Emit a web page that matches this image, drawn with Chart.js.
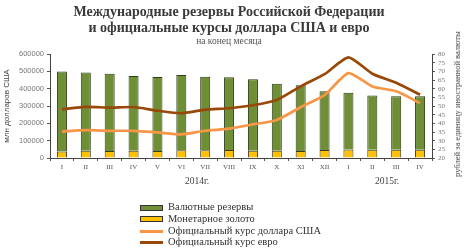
<!DOCTYPE html>
<html>
<head>
<meta charset="utf-8">
<script src="https://cdn.jsdelivr.net/npm/chart.js@4"></script>
<style>
body { margin:0; background:#fff; }
#wrap { position:relative; width:464px; height:250px; overflow:hidden; font-family:"Liberation Serif", serif; color:#333; }
#mycanvas { position:absolute; left:0; top:0; }
.t { position:absolute; white-space:nowrap; }
#title { left:0; width:458px; top:4px; text-align:center; font-weight:bold; font-size:14px; line-height:16px; color:#3a3a3a; }
#sub { left:0; width:458px; top:36px; text-align:center; font-size:9.5px; color:#555; }
#rtitle { left:457px; top:104px; font-size:8.5px; color:#444; transform:translate(-50%,-50%) rotate(-90deg); }
.yr { top:176px; font-size:9.5px; color:#444; transform:translateX(-50%); }
#legend { left:140px; top:201px; font-size:10.5px; color:#333; }
.row { height:11.8px; line-height:11.8px; }
.sw { display:inline-block; width:23px; margin-right:5px; vertical-align:middle; box-sizing:border-box; }
</style>
</head>
<body>
<div id="wrap">
<canvas id="mycanvas" width="464" height="250"></canvas>
<div class="t" id="title">Международные резервы Российской Федерации<br>и официальные курсы доллара США и евро</div>
<div class="t" id="sub">на конец месяца</div>
<div class="t" id="rtitle">рублей за единицу иностранной валюты</div>
<div class="t yr" style="left:197px">2014г.</div>
<div class="t yr" style="left:387px">2015г.</div>
<div class="t" id="legend"></div>
</div>
<script>
// months, 2014 I..XII and 2015 I..IV
var months = ["I","II","III","IV","V","VI","VII","VIII","IX","X","XI","XII","I","II","III","IV"];

// млн долларов США
var fxReserves = [461500, 452000, 445000, 431400, 425900, 434200, 424000, 419700, 412600, 387300, 379600, 339300, 326800, 312800, 309500, 308400];
var goldReserves = [37400, 41300, 41100, 41300, 41100, 44100, 44400, 45500, 41600, 41300, 40400, 46200, 49400, 47400, 46900, 48300];

// рублей за единицу
var usdRate = [35.24, 36.05, 35.69, 35.70, 34.74, 33.63, 35.73, 36.93, 39.39, 41.96, 49.32, 56.26, 68.93, 61.28, 58.46, 51.70];
var eurRate = [48.05, 49.54, 49.05, 49.41, 47.29, 45.83, 47.94, 48.70, 50.41, 53.43, 61.34, 68.34, 78.09, 68.62, 63.37, 56.47];

var seriesNames = ["Валютные резервы", "Монетарное золото", "Официальный курс доллара США", "Официальный курс евро"];

var green = "#6f8f36", gold = "#ffc000", usdCol = "#f79646", eurCol = "#984807";

var chartdata = {
    labels: months,
    datasets: [
        {
            type: 'line',
            label: seriesNames[2],
            data: usdRate,
            yAxisID: 'y1',
            borderColor: usdCol,
            borderWidth: 2.7,
            pointRadius: 0,
            tension: 0.2,
            order: 0
        },
        {
            type: 'line',
            label: seriesNames[3],
            data: eurRate,
            yAxisID: 'y1',
            borderColor: eurCol,
            borderWidth: 2.7,
            pointRadius: 0,
            tension: 0.2,
            order: 0
        },
        {
            type: 'bar',
            label: seriesNames[1],
            data: goldReserves,
            yAxisID: 'y',
            backgroundColor: gold,
            borderColor: "#3a3a28",
            borderWidth: 1,
            categoryPercentage: 1,
            barPercentage: 0.42,
            order: 1
        },
        {
            type: 'bar',
            label: seriesNames[0],
            data: fxReserves,
            yAxisID: 'y',
            backgroundColor: green,
            borderColor: "#2f3d14",
            borderWidth: 1,
            categoryPercentage: 1,
            barPercentage: 0.42,
            order: 1
        }
    ]
};

var tickFont = { family: "Liberation Serif", size: 7 };

var ctx = document.getElementById("mycanvas");
var chart = new Chart(ctx, {
    data: chartdata,
    options: {
        responsive: false,
        animation: false,
        layout: { padding: { top: 54, left: 0, right: 0, bottom: 0 } },
        plugins: { legend: { display: false }, title: { display: false }, tooltip: { enabled: false } },
        scales: {
            x: {
                stacked: true,
                grid: { display: true, drawOnChartArea: false, offset: true, tickLength: 3, color: "#555" },
                border: { color: "#444", width: 1 },
                ticks: { color: "#555", font: tickFont, padding: 2, maxRotation: 0, autoSkip: false },
                afterFit: function(s) { s.height = 92; }
            },
            y: {
                stacked: true,
                position: 'left',
                min: 0,
                max: 600000,
                grid: { display: true, drawOnChartArea: false, tickLength: 3, color: "#555" },
                border: { color: "#444", width: 1 },
                ticks: {
                    stepSize: 100000, color: "#777", font: { family: "Liberation Sans", size: 7.5 }, padding: 3,
                    callback: function(v) { return String(v); }
                },
                title: { display: true, text: "млн долларов США", color: "#444", font: { family: "Liberation Sans", size: 8 }, padding: { top: 2, bottom: 0 } },
                afterFit: function(s) { s.width = 50; }
            },
            y1: {
                position: 'right',
                min: 20,
                max: 80,
                grid: { display: true, drawOnChartArea: false, tickLength: 3, color: "#555" },
                border: { color: "#444", width: 1 },
                ticks: { stepSize: 5, autoSkip: false, color: "#777", font: tickFont, padding: 3 },
                afterFit: function(s) { s.width = 32; }
            }
        }
    }
});

// legend
var legendItems = [
    { name: seriesNames[0], kind: 'box', color: green },
    { name: seriesNames[1], kind: 'box', color: gold },
    { name: seriesNames[2], kind: 'line', color: usdCol },
    { name: seriesNames[3], kind: 'line', color: eurCol }
];
var html = "";
for (var i in legendItems) {
    var it = legendItems[i];
    var sw;
    if (it.kind == 'box') {
        sw = '<span class="sw" style="height:6px;background:' + it.color + ';border:1px solid #333"></span>';
    } else {
        sw = '<span class="sw" style="height:3px;background:' + it.color + '"></span>';
    }
    html += '<div class="row">' + sw + it.name + '</div>';
}
document.getElementById("legend").innerHTML = html;
</script>
</body>
</html>
